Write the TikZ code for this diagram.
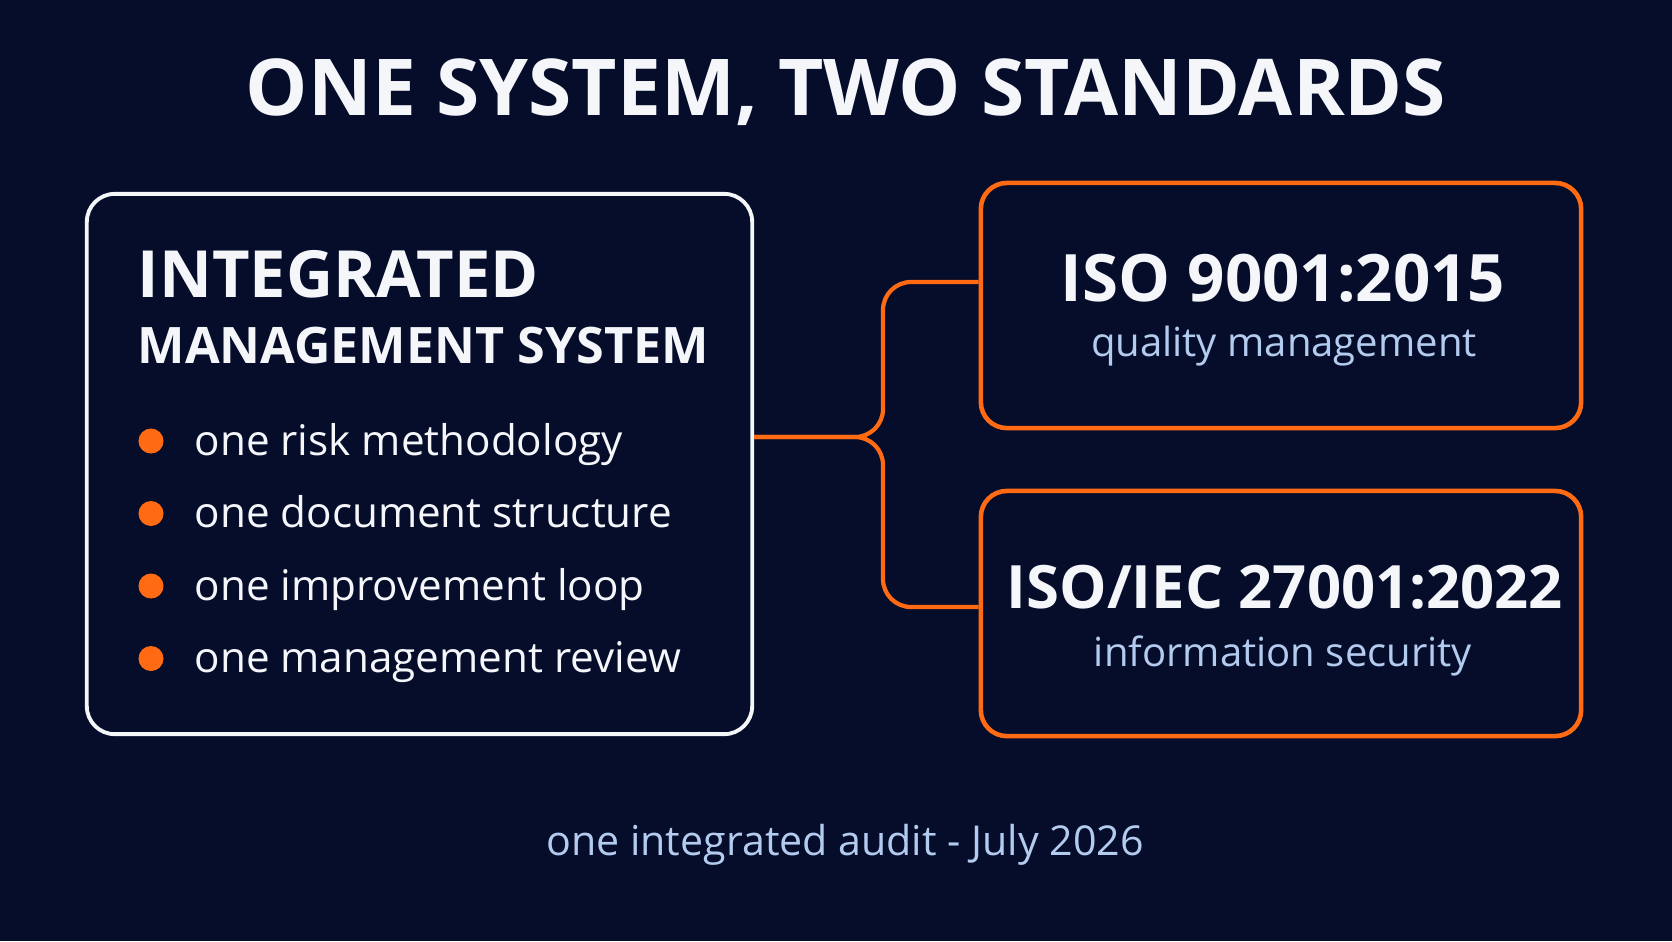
\documentclass[tikz,border=0pt]{standalone}
\usepackage{fontspec}
\setmainfont{Open Sans}
\usepackage{xcolor}
\usetikzlibrary{positioning}

\definecolor{bgnavy}{HTML}{050D2B}
\definecolor{isoorange}{HTML}{FF6A12}
\definecolor{softblue}{HTML}{B3CBEE}
\definecolor{offwhite}{HTML}{F4F6FA}

\begin{document}
\begin{tikzpicture}[x=0.01cm, y=-0.01cm,
  imsbox/.style={draw=offwhite, line width=1.1pt, rounded corners=0.28cm, minimum width=6.65cm, minimum height=5.4cm},
  isobox/.style={draw=isoorange, line width=1.3pt, rounded corners=0.26cm, minimum width=6cm, minimum height=2.45cm},
  link/.style={draw=isoorange, line width=1.2pt, rounded corners=0.28cm},
  bullet/.style={circle, fill=isoorange, minimum size=0.25cm, inner sep=0pt},
  item/.style={anchor=base west, inner sep=0pt, text=offwhite, font=\fontsize{12}{14}\selectfont},
  head/.style={anchor=base west, inner sep=0pt, text=offwhite, font=\bfseries\fontsize{#1}{#1}\selectfont},
  isotitle/.style={anchor=base, inner sep=0pt, text=offwhite, font=\bfseries\fontsize{#1}{#1}\selectfont},
  isosub/.style={anchor=base, inner sep=0pt, text=softblue, font=\fontsize{11.4}{14}\selectfont}]
  % Background
  \fill[bgnavy] (0,0) rectangle (1672,941);
  \useasboundingbox (0,0) rectangle (1672,941);

  % Title
  \node[anchor=base, inner sep=0pt, text=offwhite, font=\bfseries\fontsize{22.3}{22}\selectfont] (title) at (846,115) {ONE SYSTEM, TWO STANDARDS};

  % Define blocks
  \node[imsbox] (ims) at (419.5,464) {};
  \node[isobox] (iso9) at (1281,305.5) {};
  \node[isobox] (iso27) at (1281,613.5) {};

  % Integrated system contents
  \node[head=18.5] (imshead) at (137,297) {INTEGRATED};
  \node[head=14.3] (imssub) at (137,363) {MANAGEMENT SYSTEM};
  \foreach \txt [count=\i from 0] in {one risk methodology, one document structure, one improvement loop, one management review} {
    \node[bullet] (dot\i) at (151,441+72.5*\i) {};
    \node[item] (item\i) at (194,455+72.5*\i) {\txt};
  }

  % Standards
  \node[isotitle=18.6] (iso9name) at (1283,301) {ISO 9001:2015};
  \node[isosub] (iso9desc) at (1284,356) {quality management};
  \node[isotitle=17] (iso27name) at (1285,608) {ISO/IEC 27001:2022};
  \node[isosub] (iso27desc) at (1283,666) {information security};

  % Connect blocks
  \coordinate (hub) at (883,437);
  \coordinate (arm9) at (950,282);
  \coordinate (arm27) at (950,607);
  \draw[link] (ims.east |- hub) -- (hub) |- (iso9.west |- arm9);
  \draw[link] (ims.east |- hub) -- (hub) |- (iso27.west |- arm27);

  % Footer
  \node[anchor=base, inner sep=0pt, text=softblue, font=\fontsize{11.7}{14}\selectfont] (footer) at (845,855) {one integrated audit - July 2026};
\end{tikzpicture}
\end{document}
